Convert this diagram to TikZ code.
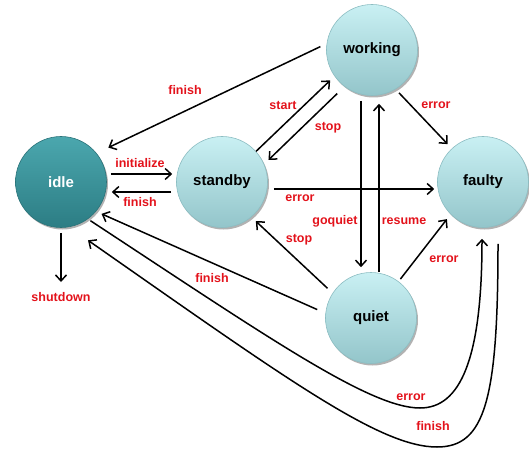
\documentclass[tikz,border=0pt]{standalone}
\usepackage{fontspec}
\setmainfont{Liberation Sans}
\usetikzlibrary{arrows.meta,shadows,calc}
\definecolor{lab}{HTML}{E3121B}
\definecolor{lighttop}{HTML}{C9F0F3}
\definecolor{lightbot}{HTML}{93C5CA}
\definecolor{lightrim}{HTML}{8CBDC2}
\definecolor{darktop}{HTML}{4BA7AE}
\definecolor{darkbot}{HTML}{2C7D84}
\definecolor{darkrim}{HTML}{2A7379}
\begin{document}
\begin{tikzpicture}[x=1pt,y=-1pt,
  statenode/.style={circle,minimum size=91pt,inner sep=0pt,
    font=\fontsize{15}{15}\selectfont\bfseries,
    drop shadow={shadow xshift=1.5pt,shadow yshift=-2pt,opacity=.3,fill=black}},
  lightstate/.style={statenode,top color=lighttop,bottom color=lightbot,draw=lightrim,line width=0.6pt,text=black},
  darkstate/.style={statenode,top color=darktop,bottom color=darkbot,draw=darkrim,line width=0.6pt,text=white},
  lbl/.style={text=lab,font=\fontsize{12.5}{12.5}\selectfont\bfseries,inner sep=1pt},
  arr/.style={draw=black,line width=1.5pt,-{Straight Barb[length=6pt,width=11pt]}},
]
\useasboundingbox (0,0) rectangle (529,454);

% states
\node[darkstate]  (idle)    at (61,182)  {idle};
\node[lightstate] (standby) at (222,182) {standby};
\node[lightstate] (working) at (372,50)  {working};
\node[lightstate] (faulty)  at (483,182) {faulty};
\node[lightstate] (quiet)   at (371,318) {quiet};
\coordinate (shut) at (61,282);

% connectors
\draw[arr,shorten <=7pt,shorten >=13pt] (working.172) -- (idle.39);
\draw[arr,shorten <=4pt,shorten >=4pt] ([yshift=8pt]idle.east) -- ([yshift=8pt]standby.west);
\draw[arr,shorten <=5pt,shorten >=5pt] ([yshift=-10pt]standby.west) -- ([yshift=-10pt]idle.east);
\draw[arr,shorten >=6pt] (standby.42) -- (working.215);
\draw[arr,shorten <=10pt,shorten >=6pt] (working.233) -- (standby.23);
\draw[arr,shorten <=5pt,shorten >=6pt] (working.301) -- (faulty.133);
\draw[arr,shorten <=6pt,shorten >=3pt] ([yshift=-7pt]standby.east) -- ([yshift=-7pt]faulty.west);
\draw[arr,shorten <=5pt,shorten >=5pt] ([xshift=-11pt]working.south) -- ([xshift=-10pt]quiet.north);
\draw[arr,shorten >=8pt] ([xshift=8pt]quiet.north) -- ([xshift=7pt]working.south);
\draw[arr,shorten <=3pt,shorten >=6pt] (quiet.53) -- (faulty.225);
\draw[arr,shorten <=7pt,shorten >=6pt] (quiet.147) -- (standby.310);
\draw[arr,shorten <=9pt,shorten >=6pt] (quiet.174) -- (idle.320);
\draw[arr,shorten <=5pt] (idle.south) -- (shut);
\draw[arr,shorten <=3pt] (idle.306) .. controls (269,338) and (370,408) .. (420,408)
   .. controls (460,408) and (482,360) .. ([xshift=-1pt,yshift=-11pt]faulty.south);
\draw[arr] ([xshift=15pt,yshift=-16pt]faulty.south) .. controls (498,400) and (485,447) .. (437,447)
   .. controls (380,447) and (288,380) .. ([xshift=27pt,yshift=-12.5pt]idle.south);

% labels
\node[lbl] (l1)  at (185,90)  {finish};
\node[lbl] (l2)  at (140,163) {initialize};
\node[lbl] (l3)  at (140,202) {finish};
\node[lbl] (l4)  at (283,105) {start};
\node[lbl] (l5)  at (328,128) {stop};
\node[lbl] (l6)  at (436,105) {error};
\node[lbl] (l7)  at (300,198) {error};
\node[lbl] (l8)  at (335,221) {goquiet};
\node[lbl] (l9)  at (404,221) {resume};
\node[lbl] (l10) at (299,240) {stop};
\node[lbl] (l11) at (444,259) {error};
\node[lbl] (l12) at (212,278) {finish};
\node[lbl] (l13) at (61,297)  {shutdown};
\node[lbl] (l14) at (411,397) {error};
\node[lbl] (l15) at (433,426) {finish};
\end{tikzpicture}
\end{document}
